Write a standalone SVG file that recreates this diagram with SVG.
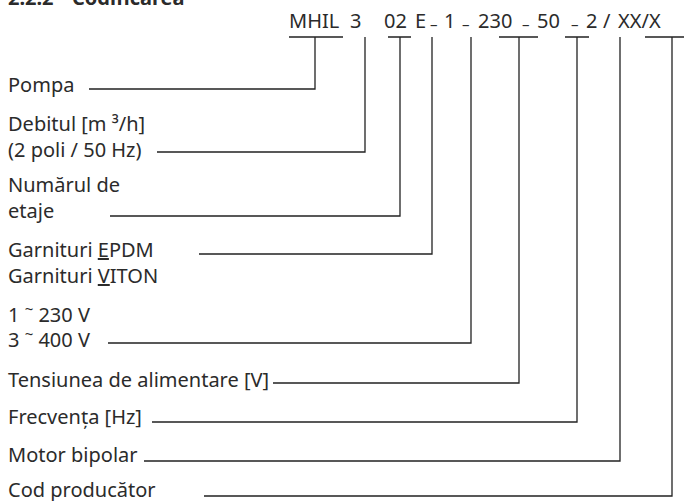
<svg xmlns="http://www.w3.org/2000/svg" width="689" height="501" viewBox="0 0 689 501">
<style>
text{font-family:"Noto Sans","Open Sans","Liberation Sans",sans-serif;font-size:20px;fill:#2b2b2b}
.t{font-weight:bold}
.d{font-size:15px}
.c path{fill:none;stroke:#222;stroke-width:1.3}
.u{text-decoration:underline}
</style>
<rect width="689" height="501" fill="#fff"/>
<text class="t" x="8" y="5">2.2.2</text>
<text class="t" x="72" y="5">Codificarea</text>
<g id="code">
<text x="289" y="28">MHIL</text>
<text x="350" y="28">3</text>
<text x="384" y="28">02</text>
<text x="415" y="28">E</text>
<text class="d" x="430" y="30">–</text>
<text x="444" y="28">1</text>
<text class="d" x="462" y="30">–</text>
<text x="478" y="28">230</text>
<text class="d" x="522" y="30">–</text>
<text x="537" y="28">50</text>
<text class="d" x="571" y="30">–</text>
<text x="586" y="28">2</text>
<text x="603" y="28">/</text>
<text x="618" y="28">XX/X</text>
</g>
<g class="c" id="connectors">
<path d="M289,37H343M315,37V89H89"/>
<path d="M365,37V152H157"/>
<path d="M388,37H411M400,37V216H110"/>
<path d="M432,37V254H199"/>
<path d="M471,37V343H108"/>
<path d="M499,37H538M519,37V383H273"/>
<path d="M565,37H589M577,37V422H152"/>
<path d="M620,37V461H144"/>
<path d="M645,37H684M672,37V496H204"/>
</g>
<g id="pompa"><text x="8" y="92">Pompa</text></g>
<g id="debit"><text x="8" y="131">Debitul [m ³/h]</text><text x="8" y="157">(2 poli / 50 Hz)</text></g>
<g id="etaje"><text x="8" y="192">Numărul de</text><text x="8" y="218">etaje</text></g>
<g id="garnituri"><text x="8" y="257">Garnituri <tspan class="u">E</tspan>PDM</text><text x="8" y="283">Garnituri <tspan class="u">V</tspan>ITON</text></g>
<g id="tensiune"><text x="8" y="322">1 <tspan font-size="15" dy="-8">~</tspan><tspan dy="8"> 230 V</tspan></text><text x="8" y="347">3 <tspan font-size="15" dy="-8">~</tspan><tspan dy="8"> 400 V</tspan></text></g>
<g id="alimentare"><text x="8" y="387">Tensiunea de alimentare [V]</text></g>
<g id="frecventa"><text x="8" y="424">Frecvența [Hz]</text></g>
<g id="motor"><text x="8" y="462">Motor bipolar</text></g>
<g id="cod"><text x="8" y="497">Cod producător</text></g>
</svg>
